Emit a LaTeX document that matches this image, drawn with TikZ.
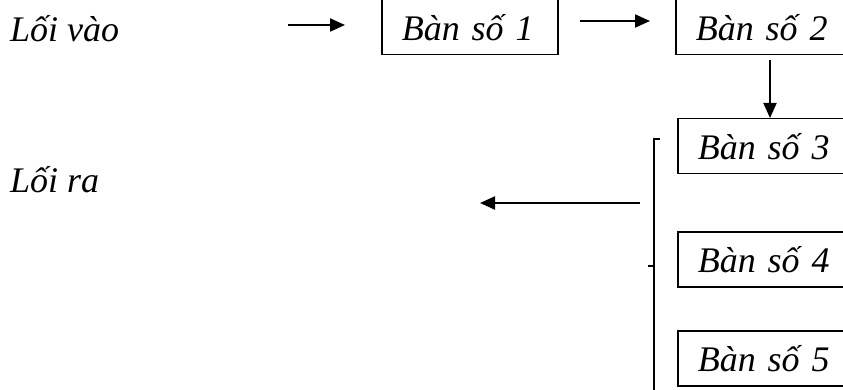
\documentclass[tikz,border=0pt]{standalone}
\usepackage{fontspec}
\setmainfont{Liberation Serif}
\usetikzlibrary{calc, positioning}
\usetikzlibrary{arrows.meta}

\tikzset{
  ban/.style={draw, line width=1.5pt, anchor=north west, minimum height=55pt,
    text width=136pt, align=left, inner xsep=20pt, inner ysep=0pt},
  arr/.style={line width=2pt, -{Triangle[length=15pt,width=13pt]}},
  lbl/.style={anchor=base west, inner sep=0pt}
}

\begin{document}
\begin{tikzpicture}[x=1pt, y=-1pt, font=\fontsize{36}{40}\selectfont\itshape]
\useasboundingbox (0,0) rectangle (843,390);

\node[lbl] (vao) at (10,42) {Lối vào};
\node[lbl] (ra) at (10,193) {Lối ra};

\node[ban] (b1) at (381,-1) {Bàn số 1};
\node[ban] (b2) at (675,-1) {Bàn số 2};
\node[ban] (b3) at (677,118) {Bàn số 3};
\node[ban] (b4) at (677,231) {Bàn số 4};
\node[ban] (b5) at (677,330) {Bàn số 5};

\coordinate (a1) at (288,25);
\coordinate (a2) at (345,25);
\coordinate (a3) at (580,21);
\coordinate (a4) at (650,21);
\coordinate (d1) at (770,60);
\coordinate (o1) at (640,203);
\coordinate (o2) at (480,203);

\draw[arr] (a1) -- (a2);
\draw[arr] (a3) -- (a4);
\draw[arr] (d1) -- (d1 |- b3.north);
\draw[arr] (o1) -- (o2);

% ngoac gom cac ban 3-5
\draw[line width=1.5pt] (660,139) -- (654,139) -- (654,392);
\draw[line width=1.5pt] (648,266) -- (654,266);
\end{tikzpicture}
\end{document}
